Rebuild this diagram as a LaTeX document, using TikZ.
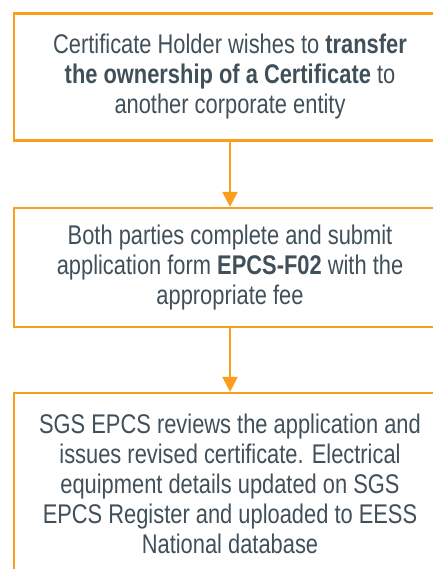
\documentclass[tikz,border=0pt]{standalone}
\usepackage{fontspec}
\setmainfont{Liberation Sans}[FakeStretch=0.81]
\usetikzlibrary{arrows.meta}

\definecolor{sgsorange}{RGB}{250,158,28}
\definecolor{sgstext}{RGB}{64,80,90}

\begin{document}
\begin{tikzpicture}[x=1pt,y=1pt,
  stepbox/.style={draw=sgsorange, line width=2.2pt, minimum width=432pt, align=center,
    text=sgstext, font=\fontsize{27}{30}\selectfont},
  flow/.style={draw=sgsorange, line width=2.2pt, -{Triangle[width=15pt,length=15pt]}}]
\useasboundingbox (0,0) rectangle (432,-569);

\node[stepbox, minimum height=127pt] (holder) at (230,-77)
  {Certificate Holder wishes to \textbf{transfer}\\ \textbf{the ownership of a Certificate} to\\ another corporate entity};
\node[stepbox, minimum height=119pt] (parties) at (230,-267.5)
  {Both parties complete and submit\\ application form \textbf{EPCS-F02} with the\\ appropriate fee};
\node[stepbox, minimum height=182pt] (review) at (230,-484)
  {SGS EPCS reviews the application and\\ issues revised certificate. Electrical\\ equipment details updated on SGS\\ EPCS Register and uploaded to EESS\\ National database};

% connectors
\draw[flow] (holder.south) -- (parties.north);
\draw[flow] (parties.south) -- (review.north);
\end{tikzpicture}
\end{document}
